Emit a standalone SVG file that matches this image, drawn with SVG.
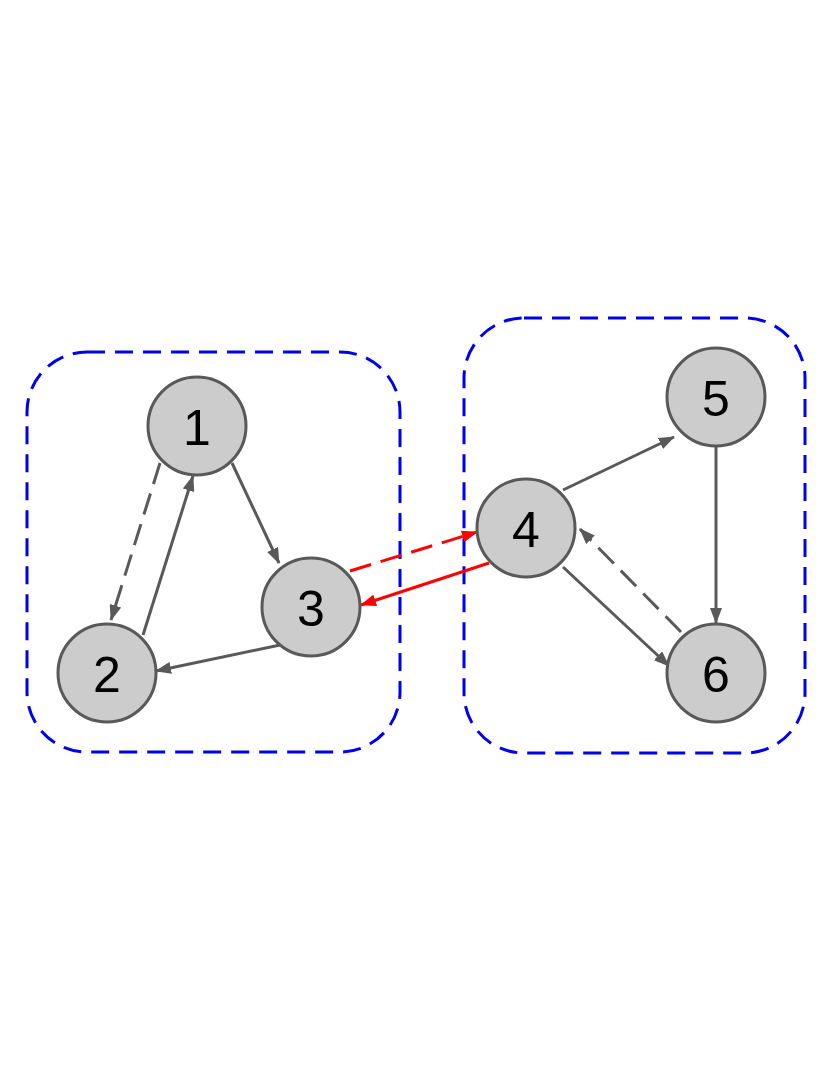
<svg xmlns="http://www.w3.org/2000/svg" width="830" height="1075" viewBox="0 0 830 1075">
<style>
.box{fill:none;stroke:#0000ee;stroke-width:3;stroke-dasharray:18 10}
.n circle{fill:#cccccc;stroke:#595959;stroke-width:3}
.n text{font-family:"Liberation Sans",Arial,sans-serif;font-size:50px;fill:#000;text-anchor:middle;dominant-baseline:central}
.e{stroke:#595959;stroke-width:3;fill:none;marker-end:url(#ag)}
.r{stroke:#ff0000;stroke-width:3;fill:none;marker-end:url(#ar)}
.d{stroke-dasharray:22 10}
</style>
<defs>
<marker id="ag" markerUnits="userSpaceOnUse" markerWidth="16" markerHeight="12" refX="15" refY="6" orient="auto"><path d="M0,0L16,6L0,12Z" fill="#595959"/></marker>
<marker id="ar" markerUnits="userSpaceOnUse" markerWidth="16" markerHeight="12" refX="15" refY="6" orient="auto"><path d="M0,0L16,6L0,12Z" fill="#ff0000"/></marker>
</defs>
<rect class="box" x="27" y="352" width="373" height="400" rx="60"/>
<rect class="box" x="464" y="318" width="341" height="435" rx="60"/>
<g id="connectors">
<line class="e d" x1="160" y1="463" x2="111" y2="620"/>
<line class="e" x1="143" y1="635" x2="193" y2="476"/>
<line class="e" x1="232" y1="463" x2="279" y2="563"/>
<line class="e" x1="280" y1="645" x2="156" y2="671"/>
<line class="r d" x1="350" y1="571" x2="477" y2="532"/>
<line class="r" x1="489" y1="563" x2="361" y2="605"/>
<line class="e" x1="563" y1="490" x2="674" y2="437"/>
<line class="e" x1="563" y1="567" x2="669" y2="666"/>
<line class="e" x1="716" y1="447" x2="716" y2="623"/>
<line class="e d" x1="681" y1="632" x2="580" y2="529"/>
</g>
<g id="n1" class="n"><circle cx="197" cy="426" r="49"/><text x="197" y="428">1</text></g>
<g id="n2" class="n"><circle cx="107" cy="673" r="49"/><text x="107" y="675">2</text></g>
<g id="n3" class="n"><circle cx="311" cy="607" r="49"/><text x="311" y="609">3</text></g>
<g id="n4" class="n"><circle cx="526" cy="528" r="49"/><text x="526" y="530">4</text></g>
<g id="n5" class="n"><circle cx="716" cy="397" r="49"/><text x="716" y="399">5</text></g>
<g id="n6" class="n"><circle cx="716" cy="673" r="49"/><text x="716" y="675">6</text></g>
</svg>
